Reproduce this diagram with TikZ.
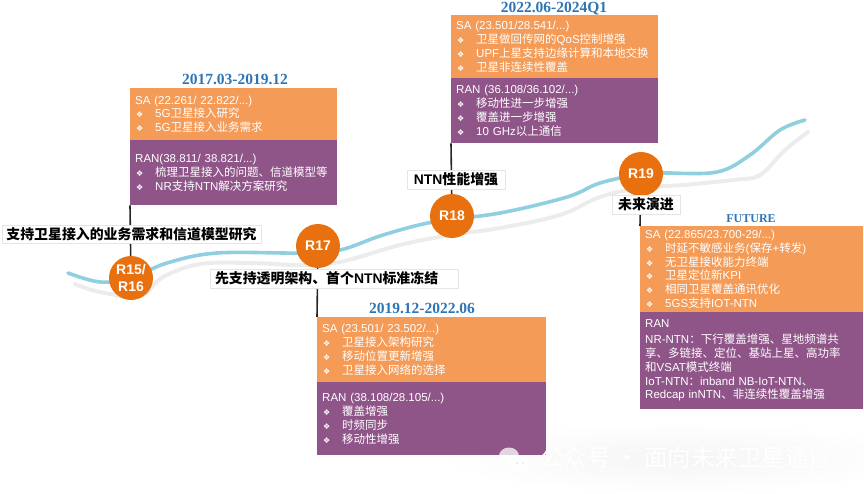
\documentclass[tikz,border=0pt]{standalone}
\usepackage{fontspec}
\setmainfont{Liberation Sans}
\newfontfamily\cjk{Noto Sans CJK SC}
\newfontfamily\dingfont{DejaVu Sans}
\newfontfamily\datefont{Liberation Serif}
\usetikzlibrary{backgrounds, positioning}
\definecolor{mOrange}{HTML}{F49B58}
\definecolor{mPurple}{HTML}{8F5589}
\definecolor{mCircle}{HTML}{E9700F}
\definecolor{mCurve}{HTML}{8FCFDF}
\definecolor{mDate}{HTML}{2E75B6}
\newcommand{\zh}[1]{{\cjk #1}}
\newcommand{\itm}[1]{\makebox[20pt][l]{\hspace{1pt}{\dingfont\fontsize{8}{8}\selectfont ❖}}#1}
\tikzset{
  sabox/.style n args={2}{fill=mOrange, text=white, anchor=north west, align=left,
    inner xsep=5pt, inner ysep=0pt, text width=#1, minimum height=#2, font=\fontsize{11.5}{13.8}\selectfont},
  ranbox/.style n args={2}{sabox={#1}{#2}, fill=mPurple},
  phase/.style={draw=gray!20, line width=0.6pt, fill=white, inner sep=0pt, font=\bfseries\fontsize{13.9}{16}\selectfont},
  release/.style={circle, fill=mCircle, text=white, align=center, inner sep=0pt, minimum size=44pt,
    font=\bfseries\fontsize{14}{17}\selectfont},
  datelabel/.style={text=mDate, inner sep=0pt, font=\datefont\bfseries\fontsize{15.5}{17}\selectfont},
  link/.style={draw=black!85, line width=1.6pt}
}

\begin{document}
\begin{tikzpicture}[x=1pt, y=-1pt]
    \useasboundingbox (0,0) rectangle (864,493);

    % boxes above and below the timeline
    \node[sabox={197pt}{52pt}] (sa1) at (130,88) {SA (22.261/ 22.822/...)\\
      \itm{5G\zh{卫星接入研究}}\\
      \itm{5G\zh{卫星接入业务需求}}};
    \node[ranbox={197pt}{65pt}] (ran1) at (130,140) {RAN(38.811/ 38.821/...)\\
      \itm{\zh{梳理卫星接入的问题、信道模型等}}\\
      \itm{NR\zh{支持}NTN\zh{解决方案研究}}};

    \node[sabox={197pt}{63pt}] (sa2) at (451,15) {SA (23.501/28.541/...)\\
      \itm{\zh{卫星做回传网的}QoS\zh{控制增强}}\\
      \itm{UPF\zh{上星支持边缘计算和本地交换}}\\
      \itm{\zh{卫星非连续性覆盖}}};
    \node[ranbox={197pt}{65pt}] (ran2) at (451,78) {RAN (36.108/36.102/...)\\
      \itm{\zh{移动性进一步增强}}\\
      \itm{\zh{覆盖进一步增强}}\\
      \itm{10 GHz\zh{以上通信}}};

    \node[sabox={219pt}{65pt}] (sa3) at (317,317) {SA (23.501/ 23.502/...)\\
      \itm{\zh{卫星接入架构研究}}\\
      \itm{\zh{移动位置更新增强}}\\
      \itm{\zh{卫星接入网络的选择}}};
    \node[ranbox={219pt}{73pt}] (ran3) at (317,382) {RAN (38.108/28.105/...)\\
      \itm{\zh{覆盖增强}}\\
      \itm{\zh{时频同步}}\\
      \itm{\zh{移动性增强}}};

    \node[sabox={213pt}{86pt}] (sa4) at (640,226) {SA (22.865/23.700-29/...)\\
      \itm{\zh{时延不敏感业务}(\zh{保存}+\zh{转发})}\\
      \itm{\zh{无卫星接收能力终端}}\\
      \itm{\zh{卫星定位新}KPI}\\
      \itm{\zh{相同卫星覆盖通讯优化}}\\
      \itm{5GS\zh{支持}IOT-NTN}};
    \node[ranbox={213pt}{97pt}] (ran4) at (640,312) {RAN\\[2pt]
      NR-NTN\zh{：下行覆盖增强、星地频谱共}\\
      \zh{享、多链接、定位、基站上星、高功率}\\
      \zh{和}VSAT\zh{模式终端}\\
      IoT-NTN\zh{：}inband NB-IoT-NTN\zh{、}\\
      Redcap inNTN\zh{、非连续性覆盖增强}};

    % releases on the timeline
    \node[release] (r15) at (131,278) {R15/\\R16};
    \node[release] (r17) at (318,246) {R17};
    \node[release] (r18) at (452,216) {R18};
    \node[release] (r19) at (641,174) {R19};

    \node[phase, minimum width=259pt, minimum height=18pt] (phase1) at (131.5,234) {\zh{支持卫星接入的业务需求和信道模型研究}};
    \node[phase, inner xsep=5pt, text width=238pt, align=left, minimum height=19pt] (phase2) at (334,278.5) {\zh{先支持透明架构、首个}NTN\zh{标准冻结}};
    \node[phase, minimum width=98pt, minimum height=19pt] (phase3) at (456,179.5) {NTN\zh{性能增强}};
    \node[phase, minimum width=68pt, minimum height=19pt] (phase4) at (646,204.5) {\zh{未来演进}};

    \node[datelabel] (date1) at (235,79) {2017.03-2019.12};
    \node[datelabel] (date2) at (554,9) {2022.06-2024Q1};
    \node[datelabel] (date3) at (422,308) {2019.12-2022.06};
    \node[datelabel, font=\datefont\bfseries\fontsize{12}{14}\selectfont] (date4) at (751,219) {FUTURE};

    \begin{scope}[on background layer]
      \shade[inner color=black!4, middle color=black!4, outer color=white] (680,458) ellipse (240 and 36);
      \draw[gray!15, line width=4pt, line cap=round] plot[smooth, tension=0.6] coordinates {(75,284) (100,292) (140,296)
        (163,277) (200,264) (250,263) (300,265) (340,262) (400,245) (450,235) (500,228) (560,215) (600,197) (640,188)
        (683,185) (733,180) (760,175) (785,150) (808,132)};
      \draw[mCurve, line width=3.6pt, line cap=round] plot[smooth, tension=0.6] coordinates {(68,273) (100,282) (131,278)
        (167,263) (217,253) (300,253) (340,250) (383,235) (433,222) (500,213) (567,197) (600,183) (641,174)
        (663,173) (717,172) (750,155) (780,130) (805,120)};
      \draw[link] (r15) -- (ran1.south west);
      \draw[link] (r17) -- (sa3.north west);
      \draw[link] (r18) -- (ran2.south west);
      \draw[link] (r19) -- (sa4.north west);
    \end{scope}

    % wechat mark over the corner of the box
    \fill[white, opacity=0.75] (509,456) ellipse (10 and 8.5);
    \fill[black!12] (505,454) circle (1) (513,454) circle (1);
    \fill[white, opacity=0.9] (520,464) ellipse (9.5 and 8);
    \fill[black!15] (517,463) circle (0.8) (523,463) circle (0.8);
    \node[text=white, inner sep=0pt, anchor=west, font=\cjk\fontsize{23.5}{25}\selectfont] (mark) at (540,458) {公众号\hspace{5pt}·\hspace{5pt}面向未来卫星通信};
  \end{tikzpicture}
\end{document}
